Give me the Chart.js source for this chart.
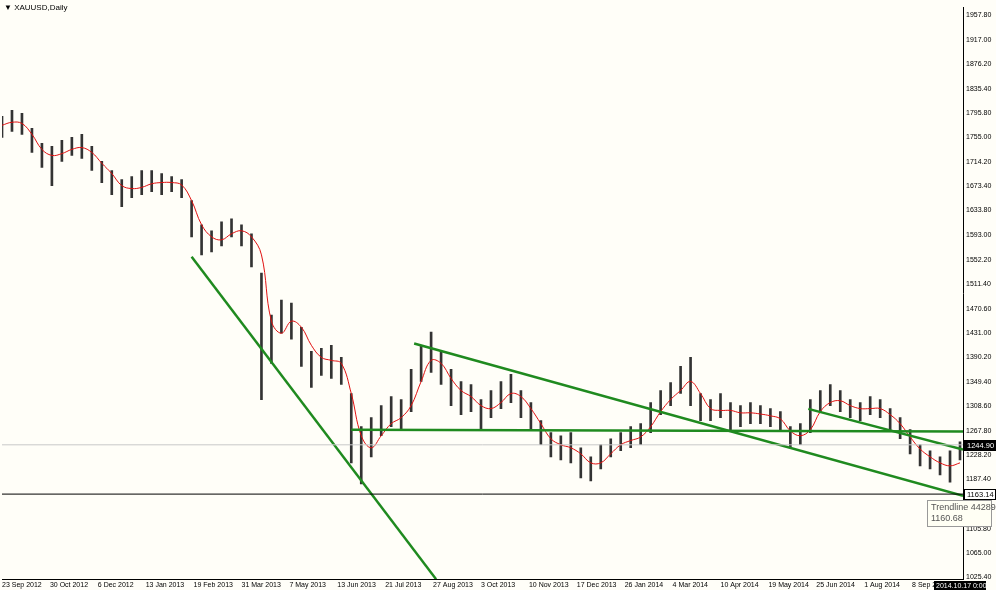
<!DOCTYPE html>
<html><head><meta charset="utf-8">
<script src="https://cdn.jsdelivr.net/npm/chart.js@4/dist/chart.umd.min.js"></script>
<style>html,body{margin:0;padding:0;background:#fffef8;}#w{position:relative;width:996px;height:590px;}</style>
</head><body><div id="w"><canvas id="c" width="996" height="590"></canvas></div>
<script>
const lows=[1755,1765,1760,1730,1705,1675,1715,1725,1720,1700,1680,1660,1640,1655,1660,1665,1660,1665,1655,1590,1560,1565,1575,1590,1575,1540,1320,1380,1430,1420,1375,1340,1360,1355,1345,1215,1180,1225,1260,1275,1270,1300,1350,1365,1345,1310,1295,1300,1270,1290,1305,1315,1290,1270,1245,1225,1220,1215,1190,1185,1205,1225,1235,1240,1245,1265,1295,1310,1330,1310,1285,1285,1290,1270,1275,1280,1280,1275,1270,1240,1245,1265,1300,1310,1300,1290,1285,1295,1290,1270,1255,1230,1210,1205,1195,1183,1220];
const highs=[1790,1800,1795,1770,1745,1740,1750,1755,1760,1740,1715,1700,1685,1690,1700,1700,1695,1690,1685,1650,1610,1600,1615,1620,1610,1595,1530,1460,1485,1480,1440,1400,1405,1410,1390,1330,1275,1290,1310,1325,1320,1370,1410,1432,1400,1370,1350,1345,1320,1335,1350,1362,1335,1315,1285,1265,1260,1265,1240,1225,1245,1255,1265,1275,1280,1315,1335,1348,1375,1390,1330,1320,1330,1315,1310,1315,1310,1305,1300,1275,1280,1320,1335,1345,1335,1320,1315,1325,1320,1305,1290,1270,1245,1235,1225,1235,1250];
const ma=[1775,1780,1778,1760,1735,1725,1728,1735,1738,1730,1712,1695,1675,1670,1672,1678,1680,1680,1676,1650,1610,1590,1585,1595,1600,1590,1560,1450,1430,1450,1440,1410,1390,1385,1380,1330,1260,1240,1260,1280,1290,1310,1350,1385,1380,1355,1335,1325,1310,1305,1315,1330,1325,1305,1280,1255,1245,1240,1230,1215,1215,1230,1245,1252,1258,1275,1300,1320,1335,1350,1330,1305,1302,1302,1298,1298,1296,1293,1288,1268,1260,1270,1300,1315,1318,1310,1305,1305,1305,1295,1280,1258,1238,1225,1215,1210,1215];
const yTicks=[1957.80,1917.00,1876.20,1835.40,1795.80,1755.00,1714.20,1673.40,1633.80,1593.00,1552.20,1511.40,1470.60,1431.00,1390.20,1349.40,1308.60,1267.80,1228.20,1187.40,1146.60,1105.80,1065.00,1025.40];
const dateLabels=["23 Sep 2012","30 Oct 2012","6 Dec 2012","13 Jan 2013","19 Feb 2013","31 Mar 2013","7 May 2013","13 Jun 2013","21 Jul 2013","27 Aug 2013","3 Oct 2013","10 Nov 2013","17 Dec 2013","26 Jan 2014","4 Mar 2014","10 Apr 2014","19 May 2014","25 Jun 2014","1 Aug 2014","8 Sep 2014"];
const datePos=[0,4.8,9.6,14.4,19.2,24,28.8,33.6,38.4,43.2,48,52.8,57.6,62.4,67.2,72,76.8,81.6,86.4,91.2];
const trend1=[[19.0,1557],[43.5,1022]];
const trend2=[[41.3,1413],[96.3,1160.2]];
const trend3=[[35.0,1270],[96.3,1267]];
const trend4=[[80.8,1304.6],[96.3,1237]];
const bid=1244.90, hline=1163.14;

const bars=lows.map((l,i)=>({x:i,y:[l,highs[i]]}));
const maPts=ma.map((v,i)=>({x:i,y:v}));
const pts=a=>a.map(p=>({x:p[0],y:p[1]}));
const tl=(a,w)=>({type:'line',data:pts(a),borderColor:'#1f8a1f',borderWidth:w,pointRadius:0,tension:0});
const F='"Liberation Sans"';

const overlay={id:'ov',afterDraw(c){
  const g=c.ctx,y=c.scales.y;
  g.save();
  g.font='8px '+F;g.fillStyle='#000';g.textBaseline='middle';
  g.fillText('\u25BC XAUUSD,Daily',4,8);
  const box=(v,bg,fg)=>{const py=Math.round(y.getPixelForValue(v));g.fillStyle=bg;g.fillRect(964,py-5,32,11);g.strokeStyle='#000';g.strokeRect(964.5,py-4.5,31,10);g.fillStyle=fg;g.font='7.5px '+F;g.fillText(v.toFixed(2),967,py+0.5);};
  box(bid,'#000','#fff');box(hline,'#fff','#000');
  g.fillStyle='#fffff4';g.strokeStyle='#999';g.fillRect(927,500,64,26);g.strokeRect(927.5,500.5,64,26);
  g.fillStyle='#555';g.font='9px '+F;g.fillText('Trendline 44289',931,508);g.fillText('1160.68',931,519);
  g.fillStyle='#000';g.fillRect(934,581,52,9);g.fillStyle='#fff';g.font='7px '+F;g.fillText('2014.10.17 0:00',936,586);
  g.restore();
}};

new Chart(document.getElementById('c'),{
  data:{datasets:[
    {type:'bar',data:bars,backgroundColor:'#333',barThickness:2,grouped:false,order:5},
    {type:'line',data:maPts,borderColor:'#e01010',borderWidth:1,pointRadius:0,tension:0.4,order:4},
    {type:'line',data:[{x:0,y:bid},{x:96.3,y:bid}],borderColor:'#c8c8c8',borderWidth:1,pointRadius:0},
    {type:'line',data:[{x:0,y:hline},{x:96.3,y:hline}],borderColor:'#000',borderWidth:1,pointRadius:0},
    tl(trend1,2.5),tl(trend2,2.5),tl(trend3,2.5),tl(trend4,2.5)
  ]},
  options:{responsive:false,animation:false,layout:{padding:0},
    plugins:{legend:{display:false},tooltip:{enabled:false}},
    scales:{
      x:{type:'linear',min:0,max:96.3,offset:false,grid:{display:false,drawTicks:false,tickLength:0},border:{display:true,color:'#000'},
        afterBuildTicks:a=>{a.ticks=datePos.map(v=>({value:v}));},
        afterFit:a=>{a.height=11;},
        ticks:{autoSkip:false,maxRotation:0,align:'start',padding:2,font:{size:7,family:'Liberation Sans'},color:'#000',
          callback:(v,i)=>dateLabels[i]}},
      y:{position:'right',min:1022.3,max:1970.9,grid:{display:false,drawTicks:false,tickLength:0},border:{display:true,color:'#000'},
        afterBuildTicks:a=>{a.ticks=yTicks.map(v=>({value:v}));},
        afterFit:a=>{a.width=33;},
        ticks:{autoSkip:false,padding:3,font:{size:7,family:'Liberation Sans'},color:'#000',callback:v=>v.toFixed(2)}}
    }},
  plugins:[overlay]
});
</script></body></html>
